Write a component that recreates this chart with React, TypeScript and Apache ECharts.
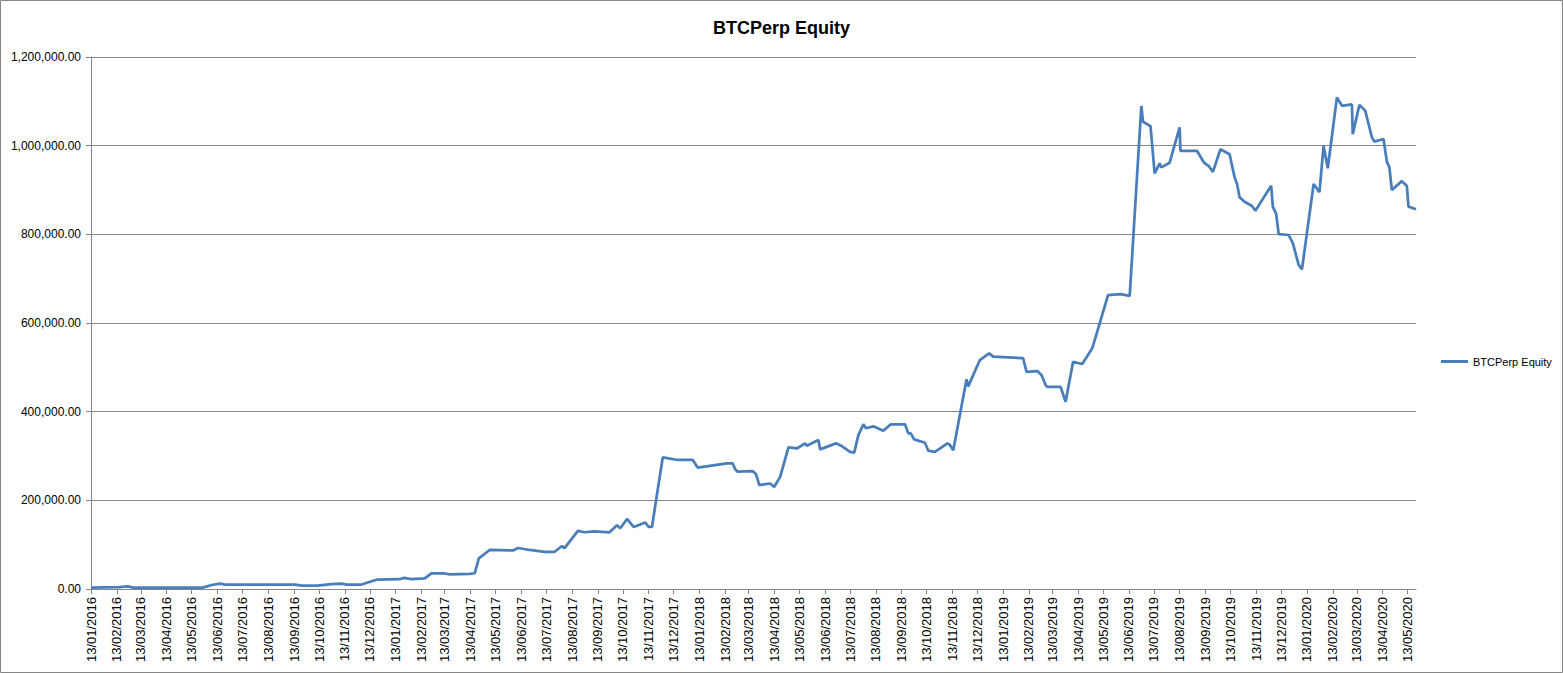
import React, { useEffect, useRef } from "react";
import * as echarts from "echarts";

const TITLE = "BTCPerp Equity";
const SERIES_NAME = "BTCPerp Equity";
const AXIS_START = "13/01/2016";
const AXIS_END = "23/05/2020";

const dates: string[] = [
  "13/01/2016", "16/02/2016", "26/02/2016", "04/03/2016", "26/05/2016", "06/06/2016", "16/06/2016", "22/06/2016",
  "14/09/2016", "22/09/2016", "11/10/2016", "28/10/2016", "09/11/2016", "15/11/2016", "03/12/2016", "21/12/2016",
  "18/01/2017", "23/01/2017", "01/02/2017", "17/02/2017", "25/02/2017", "13/03/2017", "19/03/2017", "12/04/2017",
  "18/04/2017", "23/04/2017", "06/05/2017", "03/06/2017", "09/06/2017", "23/06/2017", "11/07/2017", "23/07/2017",
  "01/08/2017", "04/08/2017", "20/08/2017", "28/08/2017", "09/09/2017", "27/09/2017", "06/10/2017", "10/10/2017",
  "18/10/2017", "26/10/2017", "09/11/2017", "13/11/2017", "17/11/2017", "30/11/2017", "18/12/2017", "05/01/2018",
  "11/01/2018", "15/02/2018", "22/02/2018", "25/02/2018", "28/02/2018", "18/03/2018", "22/03/2018", "26/03/2018",
  "08/04/2018", "13/04/2018", "20/04/2018", "30/04/2018", "10/05/2018", "20/05/2018", "22/05/2018", "05/06/2018",
  "07/06/2018", "26/06/2018", "03/07/2018", "13/07/2018", "18/07/2018", "23/07/2018", "29/07/2018", "01/08/2018",
  "10/08/2018", "22/08/2018", "31/08/2018", "17/09/2018", "21/09/2018", "24/09/2018", "28/09/2018", "11/10/2018",
  "15/10/2018", "23/10/2018", "07/11/2018", "10/11/2018", "14/11/2018", "30/11/2018", "02/12/2018", "16/12/2018",
  "27/12/2018", "01/01/2019", "06/02/2019", "10/02/2019", "23/02/2019", "28/02/2019", "05/03/2019", "07/03/2019",
  "23/03/2019", "29/03/2019", "07/04/2019", "18/04/2019", "30/04/2019", "19/05/2019", "03/06/2019", "14/06/2019",
  "28/06/2019", "30/06/2019", "09/07/2019", "14/07/2019", "20/07/2019", "22/07/2019", "01/08/2019", "13/08/2019",
  "14/08/2019", "03/09/2019", "11/09/2019", "17/09/2019", "22/09/2019", "01/10/2019", "12/10/2019", "18/10/2019",
  "21/10/2019", "24/10/2019", "30/10/2019", "08/11/2019", "12/11/2019", "01/12/2019", "03/12/2019", "07/12/2019",
  "10/12/2019", "22/12/2019", "27/12/2019", "03/01/2020", "07/01/2020", "21/01/2020", "28/01/2020", "02/02/2020",
  "07/02/2020", "18/02/2020", "24/02/2020", "07/03/2020", "08/03/2020", "16/03/2020", "23/03/2020", "31/03/2020",
  "03/04/2020", "14/04/2020", "18/04/2020", "21/04/2020", "24/04/2020", "06/05/2020", "12/05/2020", "14/05/2020",
  "23/05/2020",
];

const equity: number[] = [
  3000, 4000, 6000, 3000, 3000, 9000, 12000, 10000,
  10000, 7500, 7500, 11000, 12000, 10000, 10000, 21000,
  22000, 25000, 22500, 24000, 35000, 35000, 33000, 34000,
  35500, 69000, 88000, 87000, 92500, 88000, 84000, 84000,
  97000, 92000, 131000, 128000, 130000, 128000, 144000, 137000,
  158000, 140000, 150000, 140000, 140000, 297000, 291000, 291000,
  274000, 283500, 283500, 270000, 264500, 266000, 259000, 234500,
  238000, 230500, 253000, 319500, 317000, 328500, 323000, 336000,
  315000, 328500, 322500, 309500, 307500, 347000, 371500, 362500,
  367000, 357000, 371500, 371500, 351000, 351000, 337500, 330000,
  312000, 309500, 328500, 325000, 313000, 473000, 457000, 516500,
  531500, 524000, 520500, 490000, 491500, 482500, 460000, 456000,
  456000, 422500, 512500, 507500, 543000, 663000, 665000, 661000,
  1089500, 1054000, 1044000, 937500, 960000, 951000, 961500, 1041500,
  988000, 988000, 962500, 954000, 941000, 992000, 980500, 929000,
  913500, 883500, 873500, 864000, 853000, 909500, 862500, 846000,
  800700, 798500, 780000, 731000, 721000, 913500, 895000, 999500,
  949000, 1109000, 1090000, 1093000, 1026000, 1092000, 1079000, 1019000,
  1009000, 1015000, 964000, 951000, 900000, 920000, 909000, 862500,
  856500,
];

const Y_MIN = 0;
const Y_MAX = 1200000;
const Y_STEP = 200000;

function parseDate(s: string): number {
  const [d, m, y] = s.split("/").map(Number);
  return Date.UTC(y, m - 1, d);
}
function fmtDate(t: number): string {
  const dt = new Date(t);
  const dd = String(dt.getUTCDate()).padStart(2, "0");
  const mm = String(dt.getUTCMonth() + 1).padStart(2, "0");
  return `${dd}/${mm}/${dt.getUTCFullYear()}`;
}

export default function App() {
  const ref = useRef<HTMLDivElement>(null);
  useEffect(() => {
    document.body.style.margin = "0";
    if (!ref.current) return;
    const chart = echarts.init(ref.current, null, { renderer: "svg" });

    const categories: string[] = [];
    const start = parseDate(AXIS_START);
    const end = parseDate(AXIS_END);
    for (let t = start; t <= end; t += 86400000) categories.push(fmtDate(t));
    const idx: Record<string, number> = {};
    categories.forEach((c, i) => (idx[c] = i));
    const seriesData = dates.map((d, i) => [idx[d], equity[i]]);
    const isTick = (_i: number, v: string) => v.startsWith("13/");

    const gray = "#868686";
    chart.setOption({
      animation: false,
      backgroundColor: "#ffffff",
      title: {
        text: TITLE,
        left: "center",
        top: 14,
        textStyle: { fontFamily: "Liberation Sans", fontSize: 18, fontWeight: "bold", color: "#000" },
      },
      legend: {
        data: [{ name: SERIES_NAME, icon: "rect" }],
        orient: "vertical",
        left: 1436,
        top: 351,
        itemWidth: 27,
        itemHeight: 3,
        itemGap: 4,
        textStyle: { fontFamily: "Liberation Sans", fontSize: 11, color: "#000" },
      },
      grid: { left: 91, right: 147, top: 57, bottom: 84, containLabel: false },
      xAxis: {
        type: "category",
        data: categories,
        boundaryGap: false,
        axisLine: { show: true, lineStyle: { color: gray, width: 1 } },
        axisTick: { show: true, interval: isTick, length: 5, lineStyle: { color: gray } },
        axisLabel: {
          interval: isTick,
          rotate: 90,
          margin: 8,
          fontFamily: "Liberation Sans",
          fontSize: 13,
          color: "#000",
        },
        splitLine: { show: false },
      },
      yAxis: {
        type: "value",
        min: Y_MIN,
        max: Y_MAX,
        interval: Y_STEP,
        axisLine: { show: true, lineStyle: { color: gray, width: 1 } },
        axisTick: { show: true, length: 5, lineStyle: { color: gray } },
        axisLabel: {
          margin: 10,
          fontFamily: "Liberation Sans",
          fontSize: 12,
          color: "#000",
          formatter: (v: number) =>
            v.toLocaleString("en-US", { minimumFractionDigits: 2, maximumFractionDigits: 2 }),
        },
        splitLine: { show: true, lineStyle: { color: gray, width: 1 } },
      },
      series: [
        {
          name: SERIES_NAME,
          type: "line",
          data: seriesData,
          symbol: "none",
          showSymbol: false,
          lineStyle: { color: "#4A7EBB", width: 2.75 },
          itemStyle: { color: "#4A7EBB" },
        },
      ],
      graphic: [
        {
          type: "rect",
          shape: { x: 0.5, y: 0.5, width: 1562, height: 672 },
          style: { fill: "none", stroke: gray, lineWidth: 1 },
          silent: true,
        },
      ],
    });
    return () => chart.dispose();
  }, []);
  return <div ref={ref} style={{ width: 1563, height: 673 }} />;
}
